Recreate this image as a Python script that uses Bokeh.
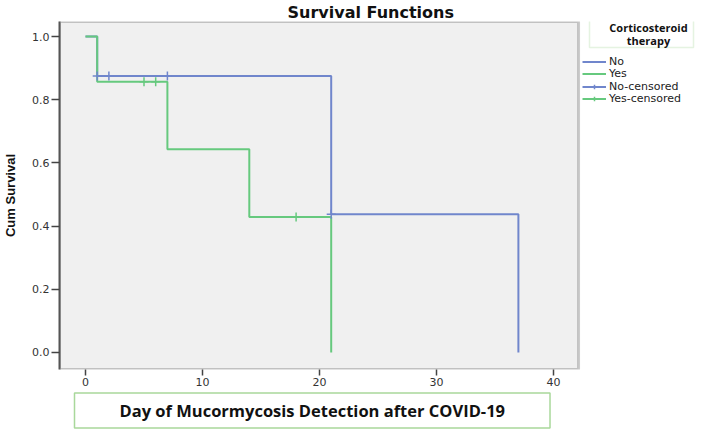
from bokeh.plotting import figure
from bokeh.models import (Range1d, FixedTicker, NumeralTickFormatter, Label,
                          BoxAnnotation, Legend, LegendItem, Title)
from bokeh.embed import file_html
from bokeh.resources import INLINE

# ---- data (Kaplan-Meier estimates) ----
no_time = [0, 1, 21, 37]
no_surv = [1.0, 0.875, 0.4375, 0.0]
yes_time = [0, 1, 7, 14, 21]
yes_surv = [1.0, 0.857, 0.643, 0.429, 0.0]
no_cens_time = [1, 2, 7, 21]
no_cens_surv = [0.875, 0.875, 0.875, 0.4375]
yes_cens_time = [5, 6, 18]
yes_cens_surv = [0.857, 0.857, 0.429]
x_ticks = [0, 10, 20, 30, 40]
y_ticks = [0.0, 0.2, 0.4, 0.6, 0.8, 1.0]
legend_labels = ["No", "Yes", "No-censored", "Yes-censored"]
title_text = "Survival Functions"
y_title = "Cum Survival"
x_title = "Day of Mucormycosis Detection after COVID-19"
legend_title = ["Corticosteroid", "therapy"]

BLUE = "#7086cc"
GREEN = "#66c97e"
BOXGREEN = "#a9d89b"
X_AREA_END = 42.14   # right edge of the grey plotting area (x units)

# frame: page x 59..709, y ~21..369 ; grey plot area ends at x = 42.14
p = figure(width=709, height=430, output_backend="svg", toolbar_location=None,
           x_range=Range1d(-2.222, 53.333), y_range=Range1d(-0.0538, 1.0475),
           min_border_left=59, min_border_right=0, min_border_top=18,
           min_border_bottom=61)
p.background_fill_color = "white"
p.border_fill_color = "white"
p.outline_line_color = None
p.xgrid.visible = False
p.ygrid.visible = False

# grey plotting area with dark frame
p.add_layout(BoxAnnotation(right=X_AREA_END, fill_color="#f0f0f0", fill_alpha=1,
                           line_color="#555555", line_width=3, level="underlay"))

for ax in (p.xaxis[0], p.yaxis[0]):
    ax.major_tick_line_color = "#444444"
    ax.major_tick_line_width = 1.5
    ax.minor_tick_line_color = None
    ax.major_tick_in = 0
    ax.major_label_text_font = "DejaVu Sans"
    ax.major_label_text_font_size = "11px"
    ax.major_label_text_color = "#333333"

p.xaxis.axis_line_color = None
p.yaxis.axis_line_color = "#555555"
p.yaxis.axis_line_width = 2
p.xaxis.ticker = FixedTicker(ticks=x_ticks)
p.yaxis.ticker = FixedTicker(ticks=y_ticks)
p.yaxis.formatter = NumeralTickFormatter(format="0.0")
p.xaxis.major_tick_out = 6
p.xaxis.major_label_standoff = 2
p.yaxis.major_tick_out = 8
p.yaxis.major_label_standoff = 2
p.yaxis.axis_label = y_title
p.yaxis.axis_label_text_font = "Liberation Sans"
p.yaxis.axis_label_text_font_style = "bold"
p.yaxis.axis_label_text_font_size = "13px"
p.yaxis.axis_label_text_color = "#111111"
p.yaxis.axis_label_standoff = 11

r_no = p.step(no_time, no_surv, mode="after", line_color=BLUE, line_width=2)
r_yes = p.step(yes_time, yes_surv, mode="after", line_color=GREEN, line_width=2)
r_nc = p.scatter(no_cens_time, no_cens_surv, marker="cross", size=9,
                 line_color=BLUE, line_width=1.5)
r_yc = p.scatter(yes_cens_time, yes_cens_surv, marker="cross", size=9,
                 line_color=GREEN, line_width=1.5)

# one single-item legend per row, so the rows sit ~12 px apart as in the source
legend_renderers = [[r_no], [r_yes], [r_no, r_nc], [r_yes, r_yc]]
legend_rows_y = [301, 289, 276, 264]   # frame-relative bottom of each row
for lab, rends, ly in zip(legend_labels, legend_renderers, legend_rows_y):
    lg = Legend(items=[LegendItem(label=lab, renderers=rends)],
                location=(523, ly), padding=0, margin=0, spacing=0,
                glyph_width=24, glyph_height=11, label_height=11,
                label_standoff=3, label_text_font="DejaVu Sans",
                label_text_font_size="11px", label_text_color="#222222",
                border_line_color=None, background_fill_alpha=0)
    p.add_layout(lg, "center")

# main title
p.title.text = title_text
p.title.align = "left"
p.title.offset = 228
p.title.standoff = 0
p.title.text_font = "DejaVu Sans"
p.title.text_font_style = "bold"
p.title.text_font_size = "16px"
p.title.text_color = "#111111"

# legend title box (frame-relative screen coords: x = page_x - 59, y = 369 - page_y)
p.add_layout(BoxAnnotation(left=530, right=634, top=351, bottom=322,
                           left_units="screen", right_units="screen",
                           top_units="screen", bottom_units="screen",
                           fill_color="white", fill_alpha=1,
                           line_color=BOXGREEN, line_width=1.5))
p.add_layout(Label(x=589, y=342, x_units="screen", y_units="screen",
                   text=legend_title[0], text_align="center",
                   text_baseline="middle", text_font="Open Sans",
                   text_font_style="bold", text_font_size="11px",
                   text_color="#111111"))
p.add_layout(Label(x=589, y=329, x_units="screen", y_units="screen",
                   text=legend_title[1], text_align="center",
                   text_baseline="middle", text_font="Open Sans",
                   text_font_style="bold", text_font_size="11px",
                   text_color="#111111"))

# x axis title in a bordered box below the axis
xt = Title(text=x_title, align="left", offset=15, standoff=5,
           text_font="Open Sans", text_font_style="bold",
           text_font_size="16.5px", text_color="#111111",
           border_line_color=BOXGREEN, border_line_width=1.5,
           background_fill_color="white", padding=(45, 6))
p.add_layout(xt, "below")

open("out.html", "w").write(file_html(p, INLINE))
